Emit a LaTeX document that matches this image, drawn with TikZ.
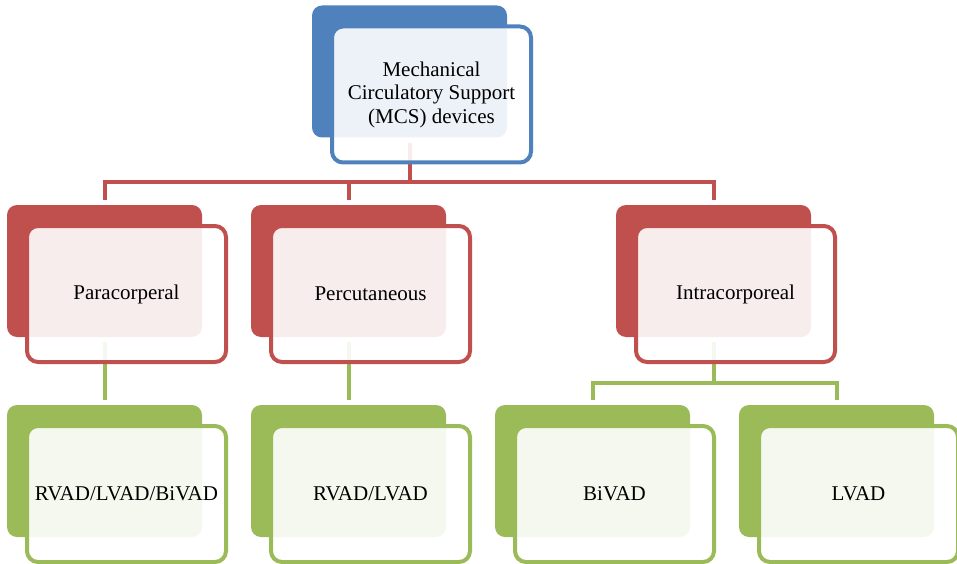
\documentclass[tikz,border=0pt]{standalone}
\usepackage{fontspec}
\setmainfont{Liberation Serif}
\usetikzlibrary{positioning}
\definecolor{mcsblue}{RGB}{79,129,189}
\definecolor{mcsred}{RGB}{192,80,77}
\definecolor{mcsgreen}{RGB}{155,187,89}

\begin{document}
\begin{tikzpicture}[x=1pt, y=-1pt,
  back/.style={fill=#1, draw=none, rounded corners=10pt, inner sep=0pt,
               minimum width=195pt, minimum height=132pt},
  front/.style={draw=#1, line width=4pt, fill=white, fill opacity=0.9, text opacity=1,
                rounded corners=11pt, inner sep=0pt, align=center,
                minimum width=199pt, minimum height=136pt,
                font=\fontsize{21}{23.5}\selectfont},
  link/.style={draw=#1, line width=4pt, shorten <=5pt, shorten >=5pt}]
  \useasboundingbox (0,0) rectangle (957,564);

  % back plates
  \node[back=mcsblue] (mcs-b) at (409.5,71.5) {};
  \node[back=mcsred] (para-b) at (104.5,271) {};
  \node[back=mcsred] (perc-b) at (348.5,271) {};
  \node[back=mcsred] (intra-b) at (713.5,271) {};
  \node[back=mcsgreen] (rlb-b) at (104.5,471) {};
  \node[back=mcsgreen] (rl-b) at (348.5,471) {};
  \node[back=mcsgreen] (bivad-b) at (592.5,471) {};
  \node[back=mcsgreen] (lvad-b) at (836.5,471) {};

  % connectors
  \coordinate (redbar) at (0,182);
  \coordinate (greenbar) at (0,383);
  \draw[link=mcsred] (mcs-b.south) -- (mcs-b.south |- redbar) -| (para-b.north);
  \draw[link=mcsred] (mcs-b.south) -- (mcs-b.south |- redbar) -| (perc-b.north);
  \draw[link=mcsred] (mcs-b.south) -- (mcs-b.south |- redbar) -| (intra-b.north);
  \draw[link=mcsgreen] (para-b.south) -- (rlb-b.north);
  \draw[link=mcsgreen] (perc-b.south) -- (rl-b.north);
  \draw[link=mcsgreen] (intra-b.south) -- (intra-b.south |- greenbar) -| (bivad-b.north);
  \draw[link=mcsgreen] (intra-b.south) -- (intra-b.south |- greenbar) -| (lvad-b.north);

  % front boxes
  \node[front=mcsblue] (mcs) at ([shift={(22,23)}]mcs-b.center)
    {Mechanical\\Circulatory Support\\(MCS) devices};
  \node[front=mcsred] (para) at ([shift={(22,23)}]para-b.center) {Paracorperal};
  \node[front=mcsred] (perc) at ([shift={(22,23)}]perc-b.center) {Percutaneous};
  \node[front=mcsred] (intra) at ([shift={(22,23)}]intra-b.center) {Intracorporeal};
  \node[front=mcsgreen] (rlb) at ([shift={(22,23)}]rlb-b.center) {RVAD/LVAD/BiVAD};
  \node[front=mcsgreen] (rl) at ([shift={(22,23)}]rl-b.center) {RVAD/LVAD};
  \node[front=mcsgreen] (bivad) at ([shift={(22,23)}]bivad-b.center) {BiVAD};
  \node[front=mcsgreen] (lvad) at ([shift={(22,23)}]lvad-b.center) {LVAD};
\end{tikzpicture}
\end{document}
